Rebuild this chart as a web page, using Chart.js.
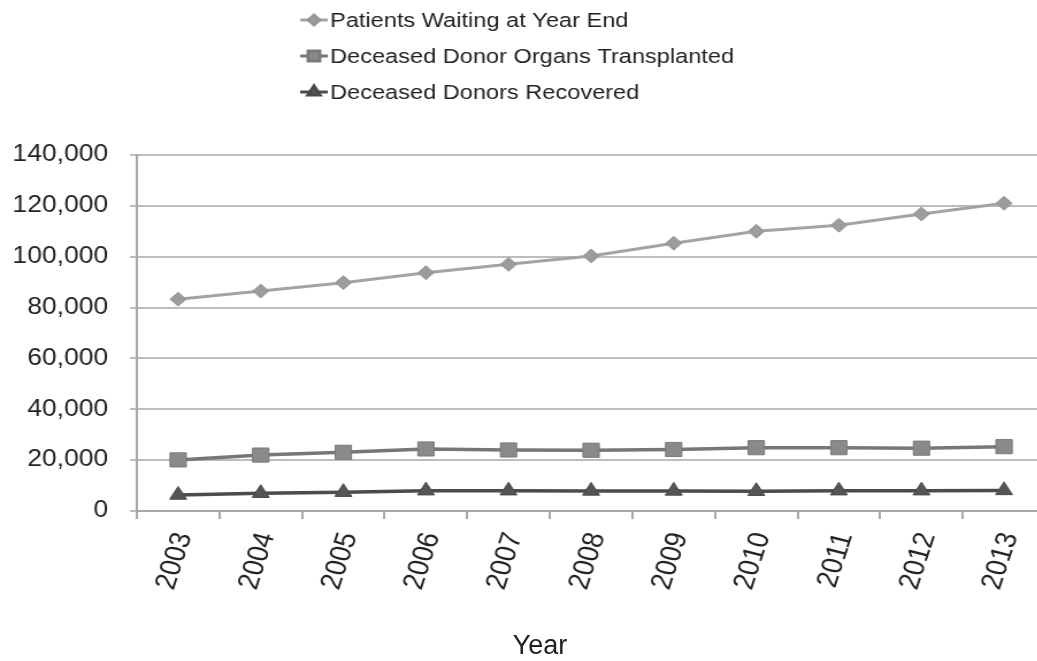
<!DOCTYPE html>
<html>
<head>
<meta charset="utf-8">
<script src="https://cdn.jsdelivr.net/npm/chart.js@4.4.1/dist/chart.umd.min.js"></script>
<style>
  html, body { margin: 0; padding: 0; background: #fff; }
  #frame { position: relative; width: 1037px; height: 661px; overflow: hidden; background: #fff; }
  /* the figure is drawn slightly widened horizontally */
  #stage { position: absolute; left: 0; top: 0; width: 922px; height: 661px;
           transform: scaleX(1.15); transform-origin: 0 0; }
  #xtitle { position: absolute; left: 470px; top: 630px; width: 140px; text-align: center;
            font-family: "Liberation Sans", Arial, sans-serif; font-size: 27px; color: #222; }
</style>
</head>
<body>
<div id="frame">
  <div id="stage"><canvas id="chart"></canvas></div>
  <div id="xtitle">Year</div>
</div>
<script>
// Years on the category axis
const years = ['2003', '2004', '2005', '2006', '2007', '2008', '2009', '2010', '2011', '2012', '2013'];

// Series values
const patientsWaiting = [83300, 86500, 89800, 93700, 97000, 100300, 105300, 110000, 112400, 116800, 121000];
const organsTransplanted = [20100, 22000, 23100, 24400, 24000, 23900, 24200, 24900, 24900, 24700, 25300];
const donorsRecovered = [6300, 7000, 7400, 8000, 8000, 7900, 7900, 7800, 8000, 8000, 8100];

// Value axis ticks
const yTicks = [0, 20000, 40000, 60000, 80000, 100000, 120000, 140000];

const seriesNames = ['Patients Waiting at Year End', 'Deceased Donor Organs Transplanted', 'Deceased Donors Recovered'];

const FONT = '"Liberation Sans", Arial, sans-serif';

// Stacked legend drawn above the plot
const stackedLegend = {
  id: 'stackedLegend',
  afterDraw(chart) {
    const ctx = chart.ctx;
    const rows = [20, 56, 92];
    ctx.save();
    chart.data.datasets.forEach((ds, i) => {
      const y = rows[i];
      ctx.strokeStyle = ds.borderColor;
      ctx.lineWidth = 3;
      ctx.beginPath();
      ctx.moveTo(261, y);
      ctx.lineTo(285, y);
      ctx.stroke();
      ctx.fillStyle = ds.pointBackgroundColor;
      ctx.strokeStyle = ds.pointBorderColor;
      Chart.helpers.drawPoint(ctx, {
        pointStyle: ds.pointStyle,
        radius: ds.pointRadius * 0.7,
        rotation: 0,
        borderWidth: 1
      }, 273, y);
      ctx.fillStyle = '#222';
      ctx.font = '20.5px ' + FONT;
      ctx.textAlign = 'left';
      ctx.textBaseline = 'middle';
      ctx.fillText(ds.label, 287, y + 1);
    });
    ctx.restore();
  }
};

new Chart(document.getElementById('chart'), {
  type: 'line',
  data: {
    labels: years,
    datasets: [
      {
        label: seriesNames[0],
        data: patientsWaiting,
        borderColor: '#a3a3a3',
        borderWidth: 3,
        pointStyle: 'rectRot',
        pointRadius: 7,
        pointBackgroundColor: '#9c9c9c',
        pointBorderColor: '#979797',
        pointBorderWidth: 1,
        tension: 0
      },
      {
        label: seriesNames[1],
        data: organsTransplanted,
        borderColor: '#777777',
        borderWidth: 3.5,
        pointStyle: 'rect',
        pointRadius: 10,
        pointBackgroundColor: '#8a8a8a',
        pointBorderColor: '#7a7a7a',
        pointBorderWidth: 1,
        tension: 0
      },
      {
        label: seriesNames[2],
        data: donorsRecovered,
        borderColor: '#4c4c4c',
        borderWidth: 3.5,
        pointStyle: 'triangle',
        pointRadius: 8.5,
        pointBackgroundColor: '#555555',
        pointBorderColor: '#4a4a4a',
        pointBorderWidth: 1,
        tension: 0
      }
    ]
  },
  options: {
    responsive: true,
    maintainAspectRatio: false,
    animation: false,
    events: [],
    layout: { padding: { top: 155, right: 13, left: 0, bottom: 0 } },
    plugins: {
      legend: { display: false },
      tooltip: { enabled: false }
    },
    scales: {
      x: {
        type: 'category',
        offset: true,
        grid: {
          display: true,
          drawOnChartArea: false,
          offset: true,
          tickLength: 8,
          color: '#a8a8a8',
          lineWidth: 2
        },
        border: { display: true, color: '#a8a8a8', width: 2 },
        ticks: {
          minRotation: 74,
          maxRotation: 74,
          padding: 10,
          labelOffset: 5,
          color: '#222',
          font: { family: FONT, size: 26 }
        },
        afterFit(scale) { scale.height = 150; }
      },
      y: {
        min: 0,
        max: 140000,
        afterBuildTicks(scale) { scale.ticks = yTicks.map(v => ({ value: v })); },
        grid: {
          color: '#bdbdbd',
          lineWidth: 2,
          tickLength: 6
        },
        border: { display: true, color: '#a8a8a8', width: 2 },
        ticks: {
          padding: 19,
          color: '#222',
          font: { family: FONT, size: 23 },
          callback: v => v.toLocaleString('en-US')
        },
        afterFit(scale) { scale.width = 119; }
      }
    }
  },
  plugins: [stackedLegend]
});
</script>
</body>
</html>
